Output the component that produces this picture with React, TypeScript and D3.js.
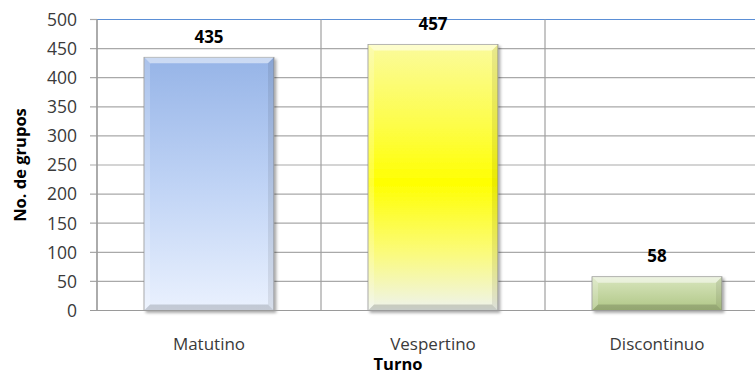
import React from "react";
import * as d3 from "d3";

const categories = ["Matutino", "Vespertino", "Discontinuo"];
const values = [435, 457, 58];
const yTicks = [0, 50, 100, 150, 200, 250, 300, 350, 400, 450, 500];
const yTitle = "No. de grupos";
const xTitle = "Turno";

const W = 755;
const H = 379;
const left = 97;
const right = 769;
const top = 19.5;
const bottom = 310.5;
const FONT = "'Open Sans', 'DejaVu Sans', sans-serif";

const gradients = [
  { id: "g0", stops: [["0%", "#96b4e7"], ["50%", "#bfd3f5"], ["100%", "#eaf1fe"]] },
  { id: "g1", stops: [["0%", "#fbfb9c"], ["30%", "#fdfd4a"], ["52%", "#ffff00"], ["78%", "#fbfb7a"], ["100%", "#eef3ee"]] },
  { id: "g2", stops: [["0%", "#d9e6bf"], ["100%", "#afc685"]] },
];

export default function App() {
  const x = d3.scaleBand<string>().domain(categories).range([left, right]).paddingInner(0.42).paddingOuter(0.21);
  const y = d3.scaleLinear().domain([0, 500]).range([bottom, top]);
  const step = x.step();
  const bw = x.bandwidth();
  const bev = 6;

  return (
    <svg width={W} height={H} style={{ position: "absolute", left: 0, top: 0, background: "#fff" }}>
      <defs>
        {gradients.map((g) => (
          <linearGradient key={g.id} id={g.id} x1="0" y1="0" x2="0" y2="1">
            {g.stops.map(([o, c]) => (
              <stop key={o} offset={o} stopColor={c} />
            ))}
          </linearGradient>
        ))}
        <filter id="sh" x="-10%" y="-10%" width="130%" height="130%">
          <feGaussianBlur in="SourceAlpha" stdDeviation="1.5" />
          <feOffset dx="1.5" dy="1.5" result="b" />
          <feComponentTransfer><feFuncA type="linear" slope="0.35" /></feComponentTransfer>
          <feMerge><feMergeNode /><feMergeNode in="SourceGraphic" /></feMerge>
        </filter>
      </defs>
      {/* gridlines */}
      {yTicks.map((t) => (
        <line key={"g" + t} x1={left - 7} x2={right} y1={y(t)} y2={y(t)}
          stroke={t === 500 ? "#5b8fd6" : "#a9a9a9"} strokeWidth={1.2} />
      ))}
      <line x1={left - 7} x2={left} y1={y(500)} y2={y(500)} stroke="#a9a9a9" strokeWidth={1.2} />
      {/* vertical category lines */}
      {categories.map((c, i) => (
        <line key={"v" + c} x1={left + step * i} x2={left + step * i} y1={top} y2={bottom}
          stroke="#a0a0a0" strokeWidth={1.2} />
      ))}
      {/* y tick labels */}
      {yTicks.map((t) => (
        <text key={"t" + t} x={left - 20} y={y(t)} dy="0.36em" textAnchor="end"
          fontFamily={FONT} fontSize={17.5} fill="#3a3a3a">{t}</text>
      ))}
      {/* bars */}
      {categories.map((c, i) => {
        const x0 = x(c)!;
        const x1 = x0 + bw;
        const y0 = y(values[i]);
        const y1 = y(0);
        return (
          <g key={"b" + c}>
            <rect x={x0} y={y0} width={bw} height={y1 - y0} fill={`url(#${gradients[i].id})`}
              stroke="#8c8c8c" strokeWidth={0.8} filter="url(#sh)" />
            <polygon points={`${x0},${y0} ${x1},${y0} ${x1 - bev},${y0 + bev} ${x0 + bev},${y0 + bev}`}
              fill="#ffffff" opacity={0.5} />
            <polygon points={`${x0},${y0} ${x0 + bev},${y0 + bev} ${x0 + bev},${y1 - bev} ${x0},${y1}`}
              fill="#ffffff" opacity={0.2} />
            <polygon points={`${x1},${y0} ${x1 - bev},${y0 + bev} ${x1 - bev},${y1 - bev} ${x1},${y1}`}
              fill="#000000" opacity={0.08} />
            <polygon points={`${x0},${y1} ${x0 + bev},${y1 - bev} ${x1 - bev},${y1 - bev} ${x1},${y1}`}
              fill="#000000" opacity={0.16} />
            <text x={x0 + bw / 2} y={y0 - 14.5} textAnchor="middle" fontFamily={FONT}
              fontSize={17} fontWeight="bold" fill="#000">{values[i]}</text>
          </g>
        );
      })}
      {/* axes */}
      <line x1={left} x2={left} y1={top} y2={bottom} stroke="#9a9a9a" strokeWidth={1.2} />
      <line x1={left - 7} x2={right} y1={bottom} y2={bottom} stroke="#9a9a9a" strokeWidth={1.2} />
      {/* category labels */}
      {categories.map((c) => (
        <text key={"c" + c} x={x(c)! + bw / 2} y={350} textAnchor="middle" fontFamily={FONT}
          fontSize={17} fill="#3a3a3a">{c}</text>
      ))}
      <text x={398} y={370} textAnchor="middle" fontFamily={FONT} fontSize={16.5}
        fontWeight="bold" fill="#000">{xTitle}</text>
      <text transform={`translate(26,165) rotate(-90)`} textAnchor="middle" fontFamily={FONT}
        fontSize={16.5} fontWeight="bold" fill="#000">{yTitle}</text>
    </svg>
  );
}
